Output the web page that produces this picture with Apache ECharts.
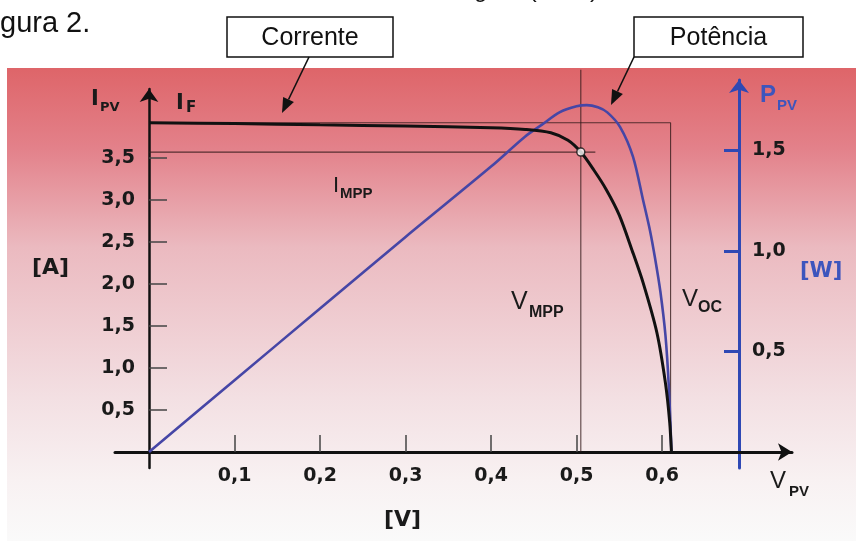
<!DOCTYPE html>
<html><head><meta charset="utf-8">
<script src="https://cdn.jsdelivr.net/npm/echarts@6/dist/echarts.min.js"></script>
<style>html,body{margin:0;padding:0;background:#fff}#c{width:856px;height:541px}</style>
</head><body><div id="c"></div>
<script>
// ---- data ----
const ivVoltage = [0, 0.1, 0.2, 0.3, 0.4, 0.44, 0.47, 0.49, 0.505, 0.52, 0.535, 0.55, 0.565, 0.578, 0.594, 0.604, 0.609, 0.611];
const ivCurrent = [3.92, 3.91, 3.895, 3.88, 3.86, 3.84, 3.80, 3.71, 3.57, 3.36, 3.12, 2.82, 2.40, 2.01, 1.42, 0.82, 0.35, 0];
const pvVoltage = [0, 0.1, 0.2, 0.3, 0.4, 0.44, 0.46, 0.48, 0.5, 0.512, 0.525, 0.536, 0.551, 0.566, 0.578, 0.586, 0.592, 0.598, 0.604, 0.608, 0.611];
const pvPower = [0, 0.357, 0.714, 1.07, 1.42, 1.57, 1.63, 1.69, 1.72, 1.726, 1.715, 1.69, 1.617, 1.47, 1.25, 1.10, 0.96, 0.80, 0.58, 0.32, 0];
const vMpp = 0.505, iMpp = 3.57, vOc = 0.61, iF = 3.92;
const iMppLineEnd = 0.522, vMppLineTop = 4.55;
const currentTicks = [0.5, 1.0, 1.5, 2.0, 2.5, 3.0, 3.5];
const voltageTicks = [0.1, 0.2, 0.3, 0.4, 0.5, 0.6];
const powerTicks = [0.5, 1.0, 1.5];

const FONT = "'Liberation Sans', Arial, Helvetica, sans-serif";
const BFONT = "'DejaVu Sans', 'Liberation Sans', Arial, sans-serif";
const fmt = v => Number(v).toFixed(1).replace('.', ',');
const pairs = (a, b) => a.map((v, i) => [v, b[i]]);
const labelStyle = {fontFamily: BFONT, fontWeight: 'bold', fontSize: 19, color: '#1a1a1a'};
const BLUE = '#2f48b4';
const TBLUE = '#3d55bd';
const X_MIN = -0.0398, X_MAX = 0.752;

function txt(t, x, y, size, weight, color, align, fam) {
  return {type: 'text', z: 100, style: {text: t, x: x, y: y, fill: color || '#1a1a1a',
    font: (weight || 'normal') + ' ' + size + 'px ' + (fam || FONT), align: align || 'left', verticalAlign: 'middle'}};
}
function arrow(x1, y1, x2, y2) {
  const dx = x2 - x1, dy = y2 - y1, L = Math.hypot(dx, dy), ux = dx / L, uy = dy / L;
  const hl = 15, hw = 6;
  const bx = x2 - ux * hl, by = y2 - uy * hl;
  return [
    {type: 'line', z: 100, shape: {x1: x1, y1: y1, x2: bx, y2: by}, style: {stroke: '#111', lineWidth: 1.6}},
    {type: 'polygon', z: 100, shape: {points: [[x2, y2], [bx - uy * hw, by + ux * hw], [bx + uy * hw, by - ux * hw]]}, style: {fill: '#111'}}
  ];
}
function box(x, y, w, h, label) {
  return [
    {type: 'rect', z: 99, shape: {x: x, y: y, width: w, height: h}, style: {fill: '#fff', stroke: '#111', lineWidth: 1.5}},
    txt(label, x + w / 2, y + h / 2 + 1, 25, 'normal', '#111', 'center')
  ];
}

const chart = echarts.init(document.getElementById('c'));
const guideStyle = {color: 'rgba(50,25,25,0.8)', width: 1.1};
const option = {
  backgroundColor: '#ffffff',
  animation: false,
  grid: [
    {left: 115, right: 64, top: 89, bottom: 73, outerBoundsMode: 'none'},
    {left: 115, right: 64, top: 80, bottom: 73, outerBoundsMode: 'none'}
  ],
  xAxis: [
    {gridIndex: 0, type: 'value', min: X_MIN, max: X_MAX, splitLine: {show: false},
     axisLine: {onZero: true, lineStyle: {color: '#111', width: 3}, symbol: ['none', 'arrow'], symbolSize: [13, 14]},
     axisTick: {inside: true, length: 17, customValues: voltageTicks, lineStyle: {color: '#444', width: 1.5}},
     axisLabel: Object.assign({customValues: voltageTicks, formatter: fmt, margin: -1}, labelStyle)},
    {gridIndex: 1, type: 'value', min: X_MIN, max: X_MAX, show: false}
  ],
  yAxis: [
    {gridIndex: 0, type: 'value', min: -0.19, max: 4.321, position: 'left', splitLine: {show: false},
     axisLine: {onZero: true, lineStyle: {color: '#111', width: 2.5}, symbol: ['none', 'arrow'], symbolSize: [14, 13]},
     axisTick: {inside: true, length: 18, customValues: currentTicks, lineStyle: {color: '#444', width: 1.5}},
     axisLabel: Object.assign({customValues: currentTicks, formatter: fmt, margin: -20}, labelStyle)},
    {gridIndex: 1, type: 'value', min: -0.0796, max: 1.851, position: 'right', offset: -53, splitLine: {show: false},
     axisLine: {onZero: false, lineStyle: {color: BLUE, width: 3}, symbol: ['none', 'arrow'], symbolSize: [15, 13]},
     axisTick: {inside: true, length: 15, customValues: powerTicks, lineStyle: {color: BLUE, width: 3}},
     axisLabel: Object.assign({customValues: powerTicks, formatter: fmt, margin: 13}, labelStyle)}
  ],
  series: [
    {type: 'line', xAxisIndex: 0, yAxisIndex: 0, data: [[0, iF], [vOc, iF], [vOc, 0]], symbol: 'none', clip: false, silent: true, lineStyle: guideStyle, z: 1},
    {type: 'line', xAxisIndex: 0, yAxisIndex: 0, data: [[0, iMpp], [iMppLineEnd, iMpp]], symbol: 'none', clip: false, silent: true, lineStyle: guideStyle, z: 1},
    {type: 'line', xAxisIndex: 0, yAxisIndex: 0, data: [[vMpp, 0], [vMpp, vMppLineTop]], symbol: 'none', clip: false, silent: true, lineStyle: guideStyle, z: 1},
    {type: 'line', name: 'Potência', xAxisIndex: 1, yAxisIndex: 1, data: pairs(pvVoltage, pvPower), symbol: 'none', smooth: 0.3, clip: false,
     lineStyle: {color: '#4646a6', width: 2.6}, z: 3},
    {type: 'line', name: 'Corrente', xAxisIndex: 0, yAxisIndex: 0, data: pairs(ivVoltage, ivCurrent), symbol: 'none', smooth: 0.3, clip: false,
     lineStyle: {color: '#111', width: 3}, z: 4},
    {type: 'scatter', xAxisIndex: 0, yAxisIndex: 0, data: [[vMpp, iMpp]], symbolSize: 8,
     itemStyle: {color: '#fff', borderColor: '#111', borderWidth: 1.5}, z: 5}
  ],
  graphic: [
    {type: 'rect', z: -100, shape: {x: 7, y: 68, width: 849, height: 473},
     style: {fill: new echarts.graphic.LinearGradient(0, 0, 0, 1, [
       {offset: 0, color: '#de6569'}, {offset: 0.17, color: '#e3818a'}, {offset: 0.38, color: '#ebbac0'},
       {offset: 0.7, color: '#f3e0e3'}, {offset: 0.87, color: '#f8f1f2'}, {offset: 1, color: '#fafafa'}])}},
    txt('figura (2012)', 462, -10, 24, 'normal', '#111'),
    txt('gura 2.', 0, 24, 29, 'normal', '#111'),
    ...box(227, 17, 166, 40, 'Corrente'),
    ...box(634, 17, 169, 40, 'Potência'),
    ...arrow(309, 57, 282, 113),
    ...arrow(634, 57, 611, 105),
    txt('I', 91, 100, 21, 'bold', null, 'left', BFONT), txt('PV', 100, 108, 13, 'bold', null, 'left', BFONT),
    txt('I', 176, 104, 21, 'bold', null, 'left', BFONT), txt('F', 186, 108, 15, 'bold', null, 'left', BFONT),
    txt('I', 333, 186, 22, 'normal'), txt('MPP', 340, 194, 15, 'bold'),
    txt('V', 511, 302, 25, 'normal'), txt('MPP', 529, 313, 16, 'bold'),
    txt('V', 682, 299, 24, 'normal'), txt('OC', 698, 308, 16, 'bold'),
    txt('[A]', 32, 268, 22, 'bold', null, 'left', BFONT),
    txt('[V]', 384, 520, 22, 'bold', null, 'left', BFONT),
    txt('V', 770, 481, 24, 'normal'), txt('PV', 789, 492, 15, 'bold'),
    txt('P', 760, 95, 24, 'bold', TBLUE), txt('PV', 777, 106, 15, 'bold', TBLUE),
    txt('[W]', 800, 272, 21, 'bold', TBLUE, 'left', BFONT)
  ]
};
chart.setOption(option);
</script>
</body></html>
